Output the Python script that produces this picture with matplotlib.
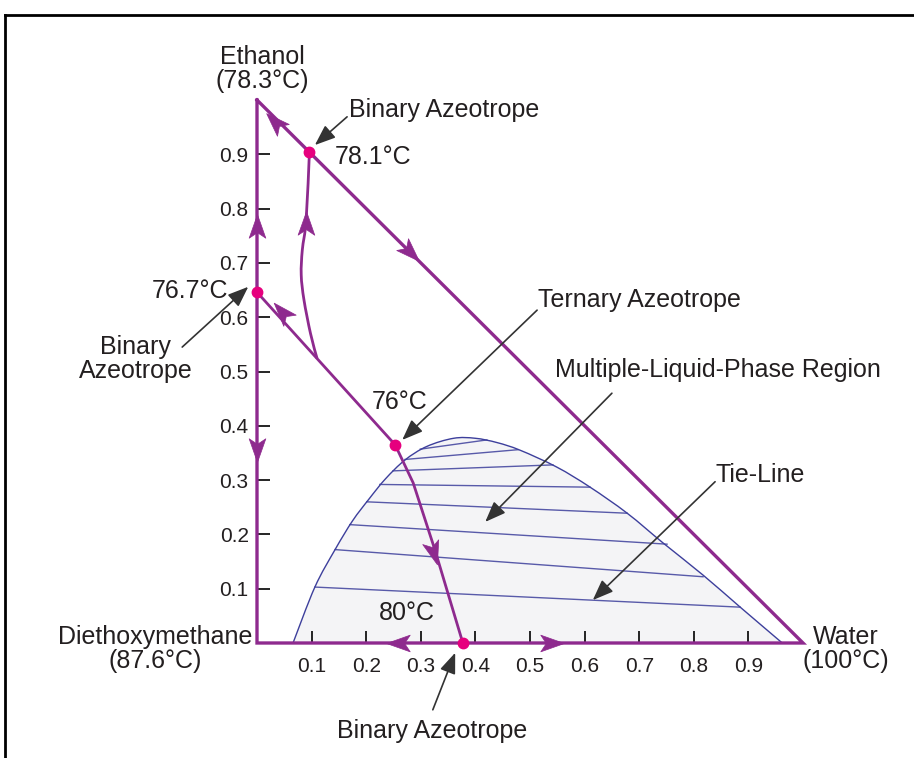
import numpy as np
import matplotlib.pyplot as plt
from matplotlib.path import Path
from matplotlib.patches import PathPatch
from matplotlib.markers import MarkerStyle
from matplotlib.transforms import Affine2D
from matplotlib.lines import Line2D

plt.rcParams['font.family'] = ['Liberation Sans', 'DejaVu Sans']

# --- data (mole fractions: x = water, y = ethanol) ---
tick_vals = [0.1, 0.2, 0.3, 0.4, 0.5, 0.6, 0.7, 0.8, 0.9]

# binodal curve of the two-liquid region
binodal_x = [0.066, 0.106, 0.143, 0.175, 0.205, 0.235, 0.271, 0.311, 0.360, 0.400,
             0.440, 0.482, 0.549, 0.610, 0.678, 0.744, 0.817, 0.885, 0.962]
binodal_y = [0.0, 0.103, 0.172, 0.225, 0.265, 0.302, 0.337, 0.362, 0.377, 0.377,
             0.369, 0.355, 0.324, 0.287, 0.239, 0.184, 0.125, 0.066, 0.0]

# tie lines: left end (x, y) -> right end (x, y)
tie_left_x = [0.299, 0.271, 0.249, 0.225, 0.201, 0.170, 0.143, 0.106]
tie_left_y = [0.357, 0.338, 0.317, 0.292, 0.260, 0.218, 0.172, 0.103]
tie_right_x = [0.421, 0.478, 0.542, 0.610, 0.678, 0.751, 0.817, 0.885]
tie_right_y = [0.374, 0.356, 0.328, 0.287, 0.239, 0.182, 0.122, 0.066]

# azeotropes
azeo_x = [0.096, 0.0, 0.253, 0.377]
azeo_y = [0.904, 0.646, 0.365, 0.0]

# distillation boundaries
bnd1_x = [0.096, 0.090, 0.083, 0.081, 0.086, 0.098, 0.110]
bnd1_y = [0.904, 0.779, 0.724, 0.678, 0.632, 0.570, 0.524]
bnd2_x = [0.0, 0.253]
bnd2_y = [0.646, 0.365]
bnd3_x = [0.253, 0.286, 0.326, 0.377]
bnd3_y = [0.365, 0.295, 0.171, 0.0]

# direction arrows on the residue curves: position and direction
arr_x = [0.034, 0.278, 0.0, 0.0, 0.048, 0.090, 0.322, 0.262, 0.536]
arr_y = [0.958, 0.722, 0.765, 0.360, 0.607, 0.770, 0.170, 0.0, 0.0]
arr_dx = [-1, 1, 0, 0, -0.253, 0.005, 0.051, -1, 1]
arr_dy = [1, -1, 1, -1, 0.281, 1, -0.171, 0, 0]

purple = '#8e2a8e'
pink = '#e6007e'
navy = '#3d3f9c'
txt = '#231f20'


def smooth(xs, ys, close=False):
    # cubic bezier path passing through the read points
    p = np.column_stack([xs, ys])
    n = len(p)
    verts = [p[0]]
    codes = [Path.MOVETO]
    for i in range(n - 1):
        p0 = p[max(i - 1, 0)]
        p1 = p[i]
        p2 = p[i + 1]
        p3 = p[min(i + 2, n - 1)]
        verts += [p1 + (p2 - p0) / 6, p2 - (p3 - p1) / 6, p2]
        codes += [Path.CURVE4] * 3
    if close:
        verts.append(p[0])
        codes.append(Path.CLOSEPOLY)
    return Path(verts, codes)


fig = plt.figure(figsize=(9.14, 7.58), dpi=100)
ax = fig.add_axes([257 / 914, 115 / 758, 546 / 914, 543 / 758])
ax.set_xlim(0, 1)
ax.set_ylim(0, 1)
for s in ax.spines.values():
    s.set_visible(False)

# two-liquid region
ax.add_patch(PathPatch(smooth(binodal_x, binodal_y, close=True), fc='#f4f4f6',
                       ec='none', zorder=1))
ax.add_patch(PathPatch(smooth(binodal_x, binodal_y), fc='none', ec=navy, lw=1.0,
                       zorder=2))
for x0, y0, x1, y1 in zip(tie_left_x, tie_left_y, tie_right_x, tie_right_y):
    ax.plot([x0, x1], [y0, y1], color=navy, lw=1.0, alpha=0.85, zorder=2)

# triangle
ax.plot([0, 0, 1, 0], [1, 0, 0, 1], color=purple, lw=2.4, zorder=3,
        clip_on=False, solid_joinstyle='miter')

# boundaries
ax.add_patch(PathPatch(smooth(bnd1_x, bnd1_y), fc='none', ec=purple, lw=2.0, zorder=3))
for bx, by in [(bnd2_x, bnd2_y), (bnd3_x, bnd3_y)]:
    ax.plot(bx, by, color=purple, lw=2.0, zorder=3, clip_on=False)

# arrowheads (stealth shape)
head = Path([(1, 0), (-0.7, 0.6), (-0.3, 0), (-0.7, -0.6), (1, 0)],
            [Path.MOVETO, Path.LINETO, Path.LINETO, Path.LINETO, Path.CLOSEPOLY])
for x, y, dx, dy in zip(arr_x, arr_y, arr_dx, arr_dy):
    ang = np.degrees(np.arctan2(dy, dx))
    m = MarkerStyle(head, transform=Affine2D().rotate_deg(ang))
    ax.plot([x], [y], marker=m, ms=20, color=purple, mec=purple, mew=0.5,
            zorder=4, clip_on=False, ls='none')

ax.plot(azeo_x, azeo_y, 'o', ms=7.5, color=pink, zorder=5, clip_on=False)

# ticks
ax.set_xticks(tick_vals)
ax.set_yticks(tick_vals)
ax.set_xticklabels([f'{v:.1f}' for v in tick_vals])
ax.set_yticklabels([f'{v:.1f}' for v in tick_vals])
ax.tick_params(axis='x', direction='in', length=9, width=1.2, pad=10,
               labelsize=15, colors='black', labelcolor=txt)
ax.tick_params(axis='y', direction='in', length=9, width=1.2, pad=6,
               labelsize=15, colors='black', labelcolor=txt)

# labels
fs = 18
ax.text(0.009, 1.057, 'Ethanol\n(78.3°C)', ha='center', va='center', fontsize=fs,
        color=txt, linespacing=1.0)
ax.text(-0.187, -0.011, 'Diethoxymethane\n(87.6°C)', ha='center', va='center',
        fontsize=fs, color=txt, linespacing=1.0)
ax.text(1.079, -0.011, 'Water\n(100°C)', ha='center', va='center', fontsize=fs,
        color=txt, linespacing=1.0)

ax.text(0.168, 0.982, 'Binary Azeotrope', ha='left', va='center', fontsize=fs, color=txt)
ax.text(0.143, 0.895, '78.1°C', ha='left', va='center', fontsize=fs, color=txt)
ax.text(-0.053, 0.648, '76.7°C', ha='right', va='center', fontsize=fs, color=txt)
ax.text(-0.222, 0.523, 'Binary\nAzeotrope', ha='center', va='center', fontsize=fs,
        color=txt, linespacing=1.0)
ax.text(0.515, 0.632, 'Ternary Azeotrope', ha='left', va='center', fontsize=fs, color=txt)
ax.text(0.262, 0.444, '76°C', ha='center', va='center', fontsize=fs, color=txt)
ax.text(0.546, 0.503, 'Multiple-Liquid-Phase Region', ha='left', va='center',
        fontsize=fs, color=txt)
ax.text(0.839, 0.309, 'Tie-Line', ha='left', va='center', fontsize=fs, color=txt)
ax.text(0.275, 0.055, '80°C', ha='center', va='center', fontsize=fs, color=txt)
ax.text(0.321, -0.162, 'Binary Azeotrope', ha='center', va='center', fontsize=fs, color=txt)

pointers = [((0.165, 0.969), (0.106, 0.917)),
            ((-0.137, 0.545), (-0.016, 0.656)),
            ((0.513, 0.613), (0.266, 0.374)),
            ((0.650, 0.460), (0.418, 0.223)),
            ((0.839, 0.297), (0.615, 0.079)),
            ((0.322, -0.123), (0.363, -0.018))]
for tail, tip in pointers:
    ax.annotate('', xy=tip, xytext=tail, annotation_clip=False,
                arrowprops=dict(arrowstyle='-|>,head_length=0.9,head_width=0.35',
                                color='#333333', lw=1.2, shrinkA=0, shrinkB=0,
                                mutation_scale=14))

# frame lines
fig.add_artist(Line2D([5 / 914, 1], [1 - 15 / 758, 1 - 15 / 758],
                      transform=fig.transFigure, color='black', lw=2))
fig.add_artist(Line2D([5 / 914, 5 / 914], [0, 1 - 15 / 758],
                      transform=fig.transFigure, color='black', lw=2))

fig.savefig('out.png', dpi=100)
